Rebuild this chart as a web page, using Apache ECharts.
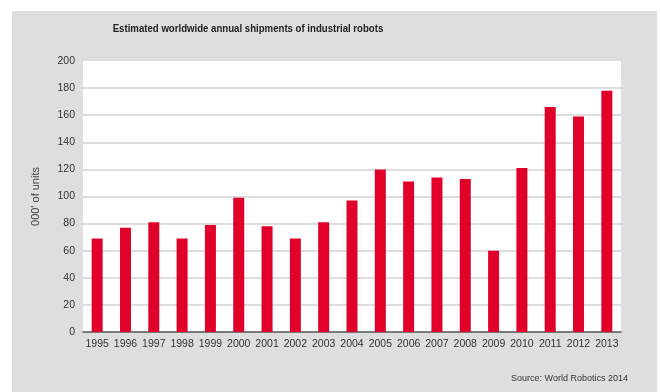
<!DOCTYPE html>
<html>
<head>
<meta charset="utf-8">
<script src="https://cdn.jsdelivr.net/npm/echarts@6/dist/echarts.min.js"></script>
<style>
html,body{margin:0;padding:0;background:#fff;}
#chart{width:660px;height:392px;}
</style>
</head>
<body>
<div id="chart"></div>
<script>
const years = ['1995','1996','1997','1998','1999','2000','2001','2002','2003','2004','2005','2006','2007','2008','2009','2010','2011','2012','2013'];
const shipments = [69, 77, 81, 69, 79, 99, 78, 69, 81, 97, 120, 111, 114, 113, 60, 121, 166, 159, 178];
const yTicks = { min: 0, max: 200, interval: 20 };
const titleText = 'Estimated worldwide annual shipments of industrial robots';
const yAxisName = "000' of units";
const sourceText = 'Source: World Robotics 2014';

const font = 'Arial, "Liberation Sans", sans-serif';
const chart = echarts.init(document.getElementById('chart'), null, { renderer: 'canvas' });
chart.setOption({
  backgroundColor: '#ffffff',
  animation: false,
  graphic: [
    { type: 'rect', z: -10, silent: true, shape: { x: 12, y: 11, width: 645, height: 381 }, style: { fill: '#dedede' } },
    { type: 'text', x: 248, y: 29, scaleX: 0.875, style: { text: titleText, fontFamily: font, fontSize: 11, fontWeight: 'bold', fill: '#222', textAlign: 'center', textVerticalAlign: 'middle' } },
    { type: 'text', x: 628, y: 379, style: { text: sourceText, fontFamily: font, fontSize: 9, fill: '#333', textAlign: 'right', textVerticalAlign: 'middle' } }
  ],
  grid: { left: 83, right: 39, top: 61, bottom: 60, show: true, backgroundColor: '#ffffff', borderWidth: 0 },
  xAxis: {
    type: 'category',
    data: years,
    axisTick: { show: false },
    axisLine: { show: true, lineStyle: { color: '#555', width: 1.5 } },
    axisLabel: { fontFamily: font, fontSize: 10.5, color: '#333', margin: 7, interval: 0 }
  },
  yAxis: {
    type: 'value',
    min: yTicks.min, max: yTicks.max, interval: yTicks.interval,
    name: yAxisName,
    nameLocation: 'middle',
    nameGap: 42,
    nameTextStyle: { fontFamily: font, fontSize: 11, color: '#444' },
    axisLine: { show: false },
    axisTick: { show: false },
    axisLabel: { fontFamily: font, fontSize: 10.5, color: '#333', margin: 8 },
    splitLine: { show: true, showMaxLine: false, showMinLine: false, lineStyle: { color: '#d2d2d2', width: 1.5 } }
  },
  series: [{
    type: 'bar',
    data: shipments,
    barWidth: 11,
    itemStyle: { color: '#e0002a' }
  }]
});
</script>
</body>
</html>
